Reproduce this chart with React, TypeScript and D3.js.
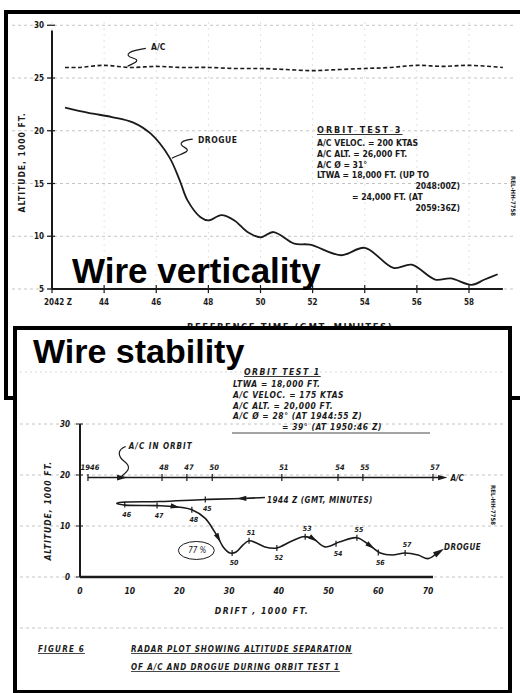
import React from 'react'
import * as d3 from 'd3'

// ---- upper chart: orbit test 3 ----
const topYTicks = [5, 10, 15, 20, 25, 30]
const topXTicks = [42, 44, 46, 48, 50, 52, 54, 56, 58]
const topXLabels = ['2042 Z', '44', '46', '48', '50', '52', '54', '56', '58']

const acTime = [42.5, 43, 44, 45, 46, 47, 48, 49, 50, 51, 52, 53, 54, 55, 56, 57, 58, 59.3]
const acAlt = [26.0, 26.0, 26.2, 26.0, 26.1, 26.0, 26.0, 25.9, 25.9, 25.8, 25.7, 25.8, 25.9, 26.0, 26.2, 26.1, 26.2, 26.0]

const drogueTime = [42.5, 43.4, 44.3, 45.1, 45.8, 46.5, 46.9, 47.2, 47.7, 48.0, 48.5, 49.0, 49.5, 50.0, 50.5, 51.3, 51.9, 53.1, 54.0, 55.1, 55.8, 56.7, 57.3, 58.1, 58.6, 59.1]
const drogueAlt = [22.2, 21.7, 21.3, 20.8, 19.7, 17.5, 15.3, 13.4, 11.8, 11.5, 12.0, 11.5, 10.4, 9.9, 10.4, 9.3, 9.2, 8.2, 8.9, 7.0, 7.3, 5.9, 6.0, 5.4, 5.9, 6.4]

const test3Notes = [
  'A/C  VELOC. = 200 KTAS',
  'A/C  ALT. = 26,000 FT.',
  'A/C  Ø = 31°',
  'LTWA = 18,000 FT. (UP TO',
  '2048:00Z)',
  '= 24,000 FT. (AT',
  '2059:36Z)',
]

// ---- lower chart: orbit test 1 ----
const botYTicks = [0, 10, 20, 30]
const botXTicks = [0, 10, 20, 30, 40, 50, 60, 70]

const orbitAlt = 19.5
const orbitStart = 1.6
const orbitEnd = 72.5
const orbitTickDrift = [1.6, 16.5, 21.5, 26.6, 40.6, 51.9, 56.9, 71.0]
const orbitTickLabels = ['1946', '48', '47', '50', '51', '54', '55', '57']

const trackDrift = [37.2, 32.6, 25.2, 16.1, 8.0, 7.4, 9.1, 15.5, 19.1, 22.5, 25.2, 26.8, 27.8, 28.8, 30.2, 31.4, 32.8, 34.0, 35.4, 37.2, 39.6, 42.3, 44.9, 46.9, 49.3, 52.3, 55.7, 58.4, 60.4, 62.8, 65.4, 68.0, 70.0, 71.8]
const trackAlt = [15.6, 15.4, 15.2, 14.8, 14.6, 14.4, 14.1, 14.0, 13.8, 13.2, 11.5, 9.3, 7.7, 5.9, 4.7, 4.9, 6.3, 7.1, 6.7, 5.9, 5.7, 6.9, 7.9, 7.5, 5.9, 6.9, 7.7, 6.1, 4.7, 4.3, 4.7, 4.3, 3.6, 4.7]
const trackArrows = [1, 8, 12, 23, 27]

const trackTickDrift = [25.2, 9.0, 15.5, 22.5, 30.6, 34.0, 39.6, 45.3, 51.5, 55.7, 60.0, 65.4]
const trackTickAlt = [15.2, 14.2, 14.0, 13.2, 4.7, 7.1, 5.7, 7.9, 6.5, 7.7, 4.8, 4.7]
const trackTickLabels = ['45', '46', '47', '48', '50', '51', '52', '53', '54', '55', '56', '57']
const trackTickAbove = [false, false, false, false, false, true, false, true, false, true, false, true]

const test1Notes = [
  'LTWA = 18,000 FT.',
  'A/C  VELOC. = 175 KTAS',
  'A/C  ALT. = 20,000 FT.',
  'A/C  Ø  = 28° (AT 1944:55 Z)',
]

const ink = '#1a1a1a'
const grid = '#c4c4c4'
const letter = "'DejaVu Sans Condensed', 'DejaVu Sans', sans-serif"

const arrowHead = (x: number, y: number, angle: number, size = 5) => {
  const a = angle
  const p = [
    [x + Math.cos(a) * size, y + Math.sin(a) * size],
    [x + Math.cos(a + 2.6) * size, y + Math.sin(a + 2.6) * size],
    [x + Math.cos(a - 2.6) * size, y + Math.sin(a - 2.6) * size],
  ]
  return `M${p[0][0]},${p[0][1]}L${p[1][0]},${p[1][1]}L${p[2][0]},${p[2][1]}Z`
}

export default function App() {
  // upper scales
  const xT = d3.scaleLinear().domain([42, 58]).range([52, 469])
  const yT = d3.scaleLinear().domain([5, 25]).range([289, 78])
  // lower scales
  const xB = d3.scaleLinear().domain([0, 70]).range([80, 428])
  const yB = d3.scaleLinear().domain([0, 30]).range([577, 424])

  const lineT = d3.line<number>().curve(d3.curveCatmullRom.alpha(0.5))
  const acPath = lineT(acTime.map((t, i) => [xT(t), yT(acAlt[i])]) as any)
  const droguePath = lineT(drogueTime.map((t, i) => [xT(t), yT(drogueAlt[i])]) as any)
  const trackPts = trackDrift.map((d, i) => [xB(d), yB(trackAlt[i])])
  const trackPath = lineT(trackPts as any)

  const ang = (i: number) => Math.atan2(trackPts[i + 1][1] - trackPts[i][1], trackPts[i + 1][0] - trackPts[i][0])
  const lastI = trackPts.length - 2

  // leader squiggles anchored on scale positions
  const acLead = `M${xT(45.6)},${yT(27.8)} C${xT(45.0)},${yT(27.6)} ${xT(44.7)},${yT(27.2)} ${xT(45.1)},${yT(26.9)} S${xT(45.0)},${yT(26.3)} ${xT(44.9)},${yT(26.1)}`
  const drLead = `M${xT(47.4)},${yT(19.2)} C${xT(47.0)},${yT(19.1)} ${xT(46.8)},${yT(18.8)} ${xT(47.1)},${yT(18.4)} S${xT(46.9)},${yT(17.8)} ${xT(46.6)},${yT(17.4)}`
  const orbLead = `M${xB(9.2)},${yB(25.6)} C${xB(7.6)},${yB(25.0)} ${xB(7.4)},${yB(23.8)} ${xB(9.0)},${yB(22.6)} S${xB(9.4)},${yB(20.6)} ${xB(8.2)},${yB(19.6)}`

  return (
    <svg width={520} height={693} style={{ position: 'absolute', left: 0, top: 0, background: '#fff' }}>
      {/* upper panel */}
      <rect x={6} y={12} width={520} height={386} fill="#fff" stroke="#000" strokeWidth={4} />

      {/* graph paper */}
      {topYTicks.map(v => (
        <line key={'gy' + v} x1={12} x2={515} y1={yT(v)} y2={yT(v)} stroke={grid} strokeDasharray="3 3" />
      ))}
      {topXTicks.map(t => (
        <line key={'gx' + t} x1={xT(t)} x2={xT(t)} y1={22} y2={310} stroke="#e2e2e2" strokeDasharray="2 4" />
      ))}

      {/* axes */}
      <line x1={xT(42)} x2={xT(42)} y1={yT(29.5)} y2={yT(5)} stroke={ink} strokeWidth={2} />
      <line x1={xT(42)} x2={xT(59.3)} y1={yT(5)} y2={yT(5)} stroke={ink} strokeWidth={2} />
      {topYTicks.map(v => (
        <g key={'ty' + v}>
          <line x1={xT(42) - 5} x2={xT(42) + 3} y1={yT(v)} y2={yT(v)} stroke={ink} strokeWidth={1.2} />
          <text x={xT(42) - 8} y={yT(v) + 3} textAnchor="end" fontFamily={letter} fontWeight="bold" fontSize={8} fill={ink}>{v}</text>
        </g>
      ))}
      {topXTicks.map((t, i) => (
        <g key={'tx' + t}>
          <line x1={xT(t)} x2={xT(t)} y1={yT(5) - 4} y2={yT(5) + 4} stroke={ink} strokeWidth={1.2} />
          <text x={xT(t) + (i === 0 ? 6 : 0)} y={yT(5) + 16} textAnchor="middle" fontFamily={letter} fontWeight="bold" fontSize={8} fill={ink}>{topXLabels[i]}</text>
        </g>
      ))}
      <text transform={`translate(25,${yT(17)}) rotate(-90)`} textAnchor="middle" fontFamily={letter} fontWeight="bold" fontSize={8.5} letterSpacing={1} fill={ink}>ALTITUDE, 1000 FT.</text>
      <text x={290} y={329.5} textAnchor="middle" fontFamily={letter} fontWeight="bold" fontSize={9.5} letterSpacing={1.5} fill={ink}>REFERENCE TIME (GMT, MINUTES)</text>

      {/* series */}
      <path d={acPath || ''} fill="none" stroke={ink} strokeWidth={1.6} strokeDasharray="4 2.5" />
      <path d={droguePath || ''} fill="none" stroke={ink} strokeWidth={1.8} />
      <path d={acLead} fill="none" stroke={ink} strokeWidth={1.2} />
      <path d={drLead} fill="none" stroke={ink} strokeWidth={1.2} />
      <text x={xT(45.8)} y={yT(27.9) + 3} fontFamily={letter} fontWeight="bold" fontSize={8.5} fill={ink}>A/C</text>
      <text x={xT(47.6)} y={yT(19.1) + 3} fontFamily={letter} fontWeight="bold" fontSize={8.5} letterSpacing={0.5} fill={ink}>DROGUE</text>

      {/* notes */}
      <text x={317} y={133} fontFamily={letter} fontWeight="bold" fontSize={9} letterSpacing={2} fill={ink} textDecoration="underline">ORBIT  TEST  3</text>
      {test3Notes.map((s, i) => (
        <text key={'n3' + i} x={i === 4 || i === 6 ? 460 : i === 5 ? 352 : 317} y={146 + i * 10.8}
          textAnchor={i === 4 || i === 6 ? 'end' : 'start'} fontFamily={letter} fontWeight="bold" fontSize={8.6} fill={ink}>{s}</text>
      ))}
      <text transform="translate(511,196) rotate(90)" textAnchor="middle" fontFamily={letter} fontWeight="bold" fontSize={6} fill={ink}>REL-HH-7758</text>

      <text x={72} y={283} fontFamily="'Liberation Sans', Arial, sans-serif" fontWeight="bold" fontSize={35} fill="#000">Wire verticality</text>

      {/* lower panel */}
      <rect x={15} y={328} width={495} height={364} fill="#fff" stroke="#000" strokeWidth={4} />
      {botYTicks.map(v => (
        <line key={'by' + v} x1={20} x2={505} y1={yB(v)} y2={yB(v)} stroke={grid} strokeDasharray="3 3" />
      ))}
      <line x1={20} x2={505} y1={628} y2={628} stroke={grid} strokeDasharray="3 3" />
      <line x1={20} x2={505} y1={372} y2={372} stroke="#d8d8d8" strokeDasharray="2 3" />

      <text x={33} y={363} fontFamily="'Liberation Sans', Arial, sans-serif" fontWeight="bold" fontSize={34} fill="#000">Wire stability</text>

      {/* notes */}
      <text x={244} y={375} fontFamily={letter} fontWeight="bold" fontStyle="italic" fontSize={8.6} letterSpacing={1.5} fill={ink} textDecoration="underline">ORBIT  TEST  1</text>
      {test1Notes.map((s, i) => (
        <text key={'n1' + i} x={233} y={387 + i * 10.8} fontFamily={letter} fontWeight="bold" fontStyle="italic" fontSize={8.4} letterSpacing={0.6} fill={ink}>{s}</text>
      ))}
      <text x={282} y={430} fontFamily={letter} fontWeight="bold" fontStyle="italic" fontSize={8.4} letterSpacing={0.6} fill={ink}>= 39° (AT 1950:46 Z)</text>
      <line x1={232} x2={430} y1={433} y2={433} stroke={ink} strokeWidth={0.8} />

      {/* axes */}
      <line x1={xB(0)} x2={xB(0)} y1={yB(30)} y2={yB(0)} stroke={ink} strokeWidth={2} />
      <line x1={xB(0)} x2={xB(71)} y1={yB(0)} y2={yB(0)} stroke={ink} strokeWidth={2.5} />
      {botYTicks.map(v => (
        <g key={'bty' + v}>
          <line x1={xB(0) - 4} x2={xB(0) + 3} y1={yB(v)} y2={yB(v)} stroke={ink} />
          <text x={xB(0) - 10} y={yB(v) + 3} textAnchor="end" fontFamily={letter} fontWeight="bold" fontStyle="italic" fontSize={8} fill={ink}>{v}</text>
        </g>
      ))}
      {botXTicks.map(v => (
        <text key={'btx' + v} x={xB(v)} y={yB(0) + 17} textAnchor="middle" fontFamily={letter} fontWeight="bold" fontStyle="italic" fontSize={8.5} fill={ink}>{v}</text>
      ))}
      <text transform={`translate(51,${yB(13)}) rotate(-90)`} textAnchor="middle" fontFamily={letter} fontWeight="bold" fontStyle="italic" fontSize={8.5} letterSpacing={1} fill={ink}>ALTITUDE, 1000 FT.</text>
      <text x={262} y={614} textAnchor="middle" fontFamily={letter} fontWeight="bold" fontStyle="italic" fontSize={8.6} letterSpacing={1.5} fill={ink}>DRIFT , 1000 FT.</text>

      {/* A/C in orbit */}
      <line x1={xB(orbitStart)} x2={xB(orbitEnd)} y1={yB(orbitAlt)} y2={yB(orbitAlt)} stroke={ink} strokeWidth={1.6} />
      <path d={arrowHead(xB(orbitEnd) + 2, yB(orbitAlt), 0)} fill={ink} />
      <path d={arrowHead(xB(8.4), yB(orbitAlt), 0, 5.5)} fill={ink} />
      {orbitTickDrift.map((d, i) => (
        <g key={'ot' + i}>
          <line x1={xB(d)} x2={xB(d)} y1={yB(orbitAlt) - 3.5} y2={yB(orbitAlt) + 3.5} stroke={ink} strokeWidth={1.2} />
          <text x={xB(d) + 2} y={yB(orbitAlt) - 8} textAnchor="middle" fontFamily={letter} fontWeight="bold" fontStyle="italic" fontSize={7.5} fill={ink}>{orbitTickLabels[i]}</text>
        </g>
      ))}
      <text x={xB(orbitEnd) + 10} y={yB(orbitAlt) + 3} fontFamily={letter} fontWeight="bold" fontStyle="italic" fontSize={8} fill={ink}>A/C</text>
      <path d={orbLead} fill="none" stroke={ink} strokeWidth={1.2} />
      <text x={xB(9.8)} y={yB(25.6) + 3} fontFamily={letter} fontWeight="bold" fontStyle="italic" fontSize={8} letterSpacing={1} fill={ink}>A/C  IN  ORBIT</text>

      {/* drogue track */}
      <path d={trackPath || ''} fill="none" stroke={ink} strokeWidth={1.6} />
      {trackArrows.map(i => (
        <path key={'ta' + i} d={arrowHead(trackPts[i][0], trackPts[i][1], ang(i), 5)} fill={ink} />
      ))}
      <path d={arrowHead(trackPts[lastI + 1][0] + 2, trackPts[lastI + 1][1] - 1, ang(lastI), 6)} fill={ink} />
      {trackTickDrift.map((d, i) => (
        <g key={'tt' + i}>
          <line x1={xB(d)} x2={xB(d)} y1={yB(trackTickAlt[i]) - 3} y2={yB(trackTickAlt[i]) + 3} stroke={ink} strokeWidth={1.2} />
          <text x={xB(d) + 2} y={yB(trackTickAlt[i]) + (trackTickAbove[i] ? -6 : 12)} textAnchor="middle" fontFamily={letter} fontWeight="bold" fontStyle="italic" fontSize={7} fill={ink}>{trackTickLabels[i]}</text>
        </g>
      ))}
      <text x={xB(37.6)} y={yB(15.6) + 6} fontFamily={letter} fontWeight="bold" fontStyle="italic" fontSize={8} letterSpacing={0.5} fill={ink}>1944 Z  (GMT, MINUTES)</text>
      <text x={xB(73.2)} y={yB(5.8) + 3} fontFamily={letter} fontWeight="bold" fontStyle="italic" fontSize={8} letterSpacing={0.5} fill={ink}>DROGUE</text>
      <ellipse cx={xB(23.4)} cy={yB(5.2)} rx={18} ry={9} fill="none" stroke={ink} strokeWidth={1} />
      <text x={xB(23.6)} y={yB(5.2) + 3} textAnchor="middle" fontFamily={letter} fontStyle="italic" fontSize={8} fill={ink}>77 %</text>
      <text transform="translate(491,505) rotate(90)" textAnchor="middle" fontFamily={letter} fontWeight="bold" fontSize={6} fill={ink}>REL-HH-7758</text>

      {/* caption */}
      <text x={38} y={652} fontFamily={letter} fontWeight="bold" fontStyle="italic" fontSize={8} letterSpacing={1.2} fill={ink} textDecoration="underline">FIGURE  6</text>
      <text x={131} y={652} fontFamily={letter} fontWeight="bold" fontStyle="italic" fontSize={8} letterSpacing={0.9} fill={ink} textDecoration="underline">RADAR PLOT SHOWING ALTITUDE SEPARATION</text>
      <text x={131} y={670} fontFamily={letter} fontWeight="bold" fontStyle="italic" fontSize={8} letterSpacing={0.9} fill={ink} textDecoration="underline">OF A/C AND DROGUE DURING ORBIT TEST 1</text>
    </svg>
  )
}
